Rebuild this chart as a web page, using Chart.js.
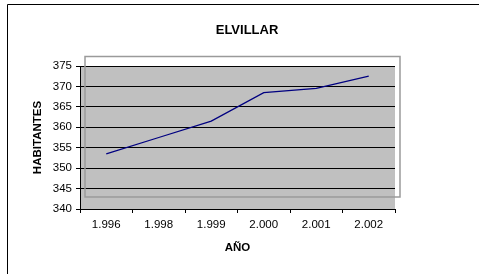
<!DOCTYPE html>
<html>
<head>
<meta charset="utf-8">
<script src="https://cdn.jsdelivr.net/npm/chart.js@4"></script>
<style>
  html, body { margin: 0; padding: 0; background: #fff; }
  #wrap { width: 479px; height: 274px; }
</style>
</head>
<body>
<div id="wrap"><canvas id="grafico" width="479" height="274"></canvas></div>
<script>
// Datos
const anios = ['1.996', '1.998', '1.999', '2.000', '2.001', '2.002'];
const habitantes = [353.5, 357.5, 361.5, 368.5, 369.5, 372.5];
const ejeY = { min: 340, max: 375, paso: 5 };

const fuente = 'Arial, "Liberation Sans", sans-serif';

// fondo gris del área de trazado + marco exterior
const fondoPlugin = {
  id: 'fondo',
  beforeDraw(chart) {
    const { ctx, chartArea: a } = chart;
    ctx.save();
    ctx.fillStyle = '#c0c0c0';
    ctx.fillRect(a.left, a.top, a.right - a.left, a.bottom - a.top);
    ctx.strokeStyle = '#000';
    ctx.lineWidth = 1;
    ctx.beginPath();
    ctx.moveTo(7.5, chart.height);
    ctx.lineTo(7.5, 4.5);
    ctx.lineTo(chart.width, 4.5);
    ctx.stroke();
    ctx.restore();
  },
  afterDraw(chart) {
    // recuadro gris desplazado (como en el original)
    const { ctx, chartArea: a } = chart;
    ctx.save();
    ctx.strokeStyle = '#9a9a9a';
    ctx.lineWidth = 1.5;
    ctx.strokeRect(a.left + 5, a.top - 9.5, a.right - a.left, a.bottom - a.top - 2.5);
    ctx.restore();
  }
};

new Chart(document.getElementById('grafico'), {
  type: 'line',
  data: {
    labels: anios,
    datasets: [{
      label: 'Habitantes',
      data: habitantes,
      borderColor: '#000080',
      borderWidth: 1.3,
      pointRadius: 0,
      tension: 0,
      fill: false
    }]
  },
  options: {
    responsive: false,
    animation: false,
    layout: { padding: { left: 15, right: 0, top: 0, bottom: 0 } },
    plugins: {
      legend: { display: false },
      tooltip: { enabled: false },
      title: {
        display: true,
        text: 'ELVILLAR',
        color: '#000',
        font: { family: fuente, size: 13, weight: 'bold' },
        padding: { top: 22.7, bottom: 27.7 }
      }
    },
    scales: {
      x: {
        offset: true,
        grid: { offset: true, drawOnChartArea: false, drawTicks: true, tickLength: 4, color: '#000' },
        border: { display: true, color: '#000' },
        ticks: { color: '#000', padding: 5, font: { family: fuente, size: 11.5 }, maxRotation: 0 },
        title: {
          display: true, text: 'AÑO', color: '#000',
          font: { family: fuente, size: 11.5, weight: 'bold' },
          padding: { top: 4, bottom: 19 }
        },
        afterFit(s) { s.height = 65; }
      },
      y: {
        min: ejeY.min,
        max: ejeY.max,
        ticks: { stepSize: ejeY.paso, color: '#000', padding: 4, font: { family: fuente, size: 11.5 } },
        grid: { color: '#000', lineWidth: 1, tickLength: 4 },
        border: { display: true, color: '#000' },
        title: {
          display: true, text: 'HABITANTES', color: '#000',
          font: { family: fuente, size: 11.5, weight: 'bold' },
          padding: { top: 16, bottom: 0 }
        },
        afterFit(s) { s.width = 65; }
      },
      derecha: {
        position: 'right',
        display: true,
        ticks: { display: false },
        grid: { display: false },
        border: { display: false },
        afterFit(s) { s.width = 84; }
      }
    }
  },
  plugins: [fondoPlugin]
});
</script>
</body>
</html>
